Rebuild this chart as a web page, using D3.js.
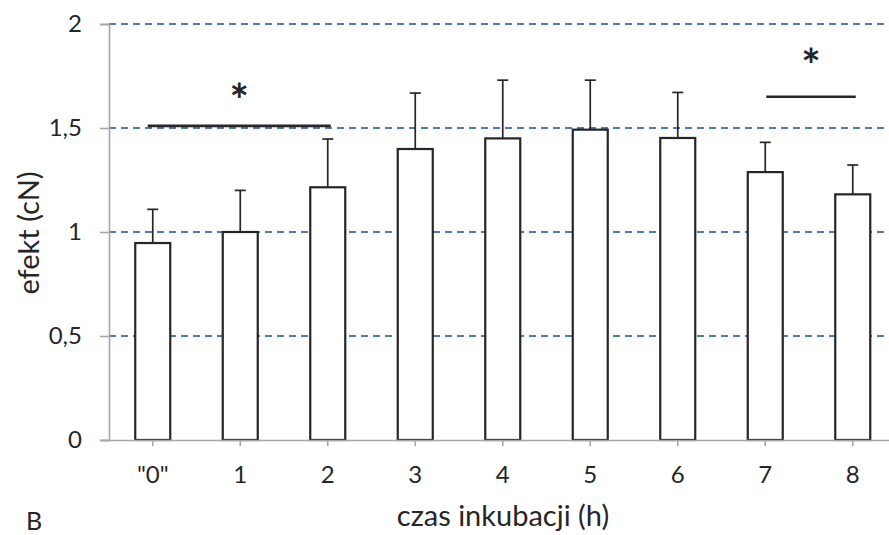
<!DOCTYPE html>
<html>
<head>
<meta charset="utf-8">
<script src="https://cdn.jsdelivr.net/npm/d3@7"></script>
<style>
  html, body { margin: 0; padding: 0; background: #fff; }
  svg { display: block; font-family: Lato, "Open Sans", sans-serif; }
</style>
</head>
<body>
<svg id="chart" width="889" height="535"></svg>
<script>
// Incubation time categories and mean effect with upper SD
const categories = ['"0"', "1", "2", "3", "4", "5", "6", "7", "8"];
const means      = [0.947, 1.0, 1.215, 1.399, 1.45, 1.492, 1.452, 1.288, 1.181];
const errUpper   = [1.109, 1.20, 1.447, 1.668, 1.73, 1.73, 1.671, 1.431, 1.322];
const yTicks     = [0, 0.5, 1, 1.5, 2];
const yTickText  = ["0", "0,5", "1", "1,5", "2"];
// Significance brackets: spanned categories, bracket level and star level
const sigBrackets = [
  { from: '"0"', to: "2", level: 1.51, starLevel: 1.6875, heavy: true },
  { from: "7",   to: "8", level: 1.65, starLevel: 1.856,  heavy: false }
];

const svg = d3.select("#chart");
const mLeft = 109, mTop = 24, mBottom = 440, W = 889;
const step = 87.5;
const ink = "#262626";

const x = d3.scaleBand()
  .domain(categories)
  .range([mLeft, mLeft + step * categories.length])
  .paddingInner(0.6)
  .paddingOuter(0.3);
const cx = c => x(c) + x.bandwidth() / 2;

const y = d3.scaleLinear().domain([0, 2]).range([mBottom, mTop]);

// Dashed horizontal gridlines
svg.append("g")
  .selectAll("line")
  .data(yTicks.filter(d => d > 0))
  .join("line")
  .attr("x1", mLeft).attr("x2", W)
  .attr("y1", d => y(d)).attr("y2", d => y(d))
  .attr("stroke", "#4a7ebb")
  .attr("stroke-width", 2)
  .attr("stroke-dasharray", "7,5");

// Error bars (upper only)
const eb = svg.append("g").attr("stroke", ink).attr("stroke-width", 1.7);
categories.forEach((c, i) => {
  eb.append("line")
    .attr("x1", cx(c)).attr("x2", cx(c))
    .attr("y1", y(means[i])).attr("y2", y(errUpper[i]));
  eb.append("line")
    .attr("x1", cx(c) - 5.5).attr("x2", cx(c) + 5.5)
    .attr("y1", y(errUpper[i])).attr("y2", y(errUpper[i]));
});

// Bars
svg.append("g")
  .selectAll("rect")
  .data(categories)
  .join("rect")
  .attr("x", d => x(d))
  .attr("width", x.bandwidth())
  .attr("y", (d, i) => y(means[i]))
  .attr("height", (d, i) => y(0) - y(means[i]))
  .attr("fill", "#fff")
  .attr("stroke", ink)
  .attr("stroke-width", 2.2);

// Y axis
const yAxis = svg.append("g")
  .attr("transform", `translate(${mLeft},0)`)
  .call(d3.axisLeft(y).tickValues(yTicks)
    .tickFormat((d, i) => yTickText[i])
    .tickSize(9).tickPadding(18));
yAxis.select(".domain").attr("stroke", "#a6a6a6").attr("stroke-width", 1.6);
yAxis.selectAll(".tick line").attr("stroke", "#a6a6a6").attr("stroke-width", 1.6);
yAxis.selectAll(".tick text")
  .attr("font-size", 24).attr("fill", ink)
  .attr("font-family", "Lato, 'Open Sans', sans-serif");

// X axis
const xAxis = svg.append("g")
  .attr("transform", `translate(0,${mBottom})`)
  .call(d3.axisBottom(x).tickSize(6).tickSizeOuter(0).tickPadding(20));
xAxis.select(".domain").attr("stroke", "#a6a6a6").attr("stroke-width", 1.6)
  .attr("d", `M${mLeft - 9},0.5H${W}`);
xAxis.selectAll(".tick line").attr("stroke", "#a6a6a6").attr("stroke-width", 1.6);
xAxis.selectAll(".tick text")
  .attr("font-size", 24).attr("fill", ink)
  .attr("font-family", "Lato, 'Open Sans', sans-serif");

// Significance brackets and stars
sigBrackets.forEach(b => {
  const x0 = cx(b.from) + (b.heavy ? -5 : 1), x1 = cx(b.to) + 3;
  svg.append("line")
    .attr("x1", x0).attr("x2", x1)
    .attr("y1", y(b.level)).attr("y2", y(b.level))
    .attr("stroke", ink)
    .attr("stroke-width", b.heavy ? 2.8 : 2.4);
  svg.append("text")
    .attr("x", (x0 + x1) / 2)
    .attr("y", y(b.starLevel))
    .attr("dy", "0.6em")
    .attr("text-anchor", "middle")
    .attr("font-size", 46).attr("font-weight", "bold")
    .attr("fill", ink)
    .text("*");
});

// Axis titles
svg.append("text")
  .attr("transform", `translate(39,233) rotate(-90)`)
  .attr("text-anchor", "middle")
  .attr("font-size", 29).attr("fill", ink)
  .text("efekt (cN)");

svg.append("text")
  .attr("x", 503).attr("y", 526)
  .attr("text-anchor", "middle")
  .attr("font-size", 29).attr("fill", ink)
  .text("czas inkubacji (h)");

svg.append("text")
  .attr("x", 26).attr("y", 530)
  .attr("font-size", 25).attr("fill", ink)
  .text("B");
</script>
</body>
</html>
